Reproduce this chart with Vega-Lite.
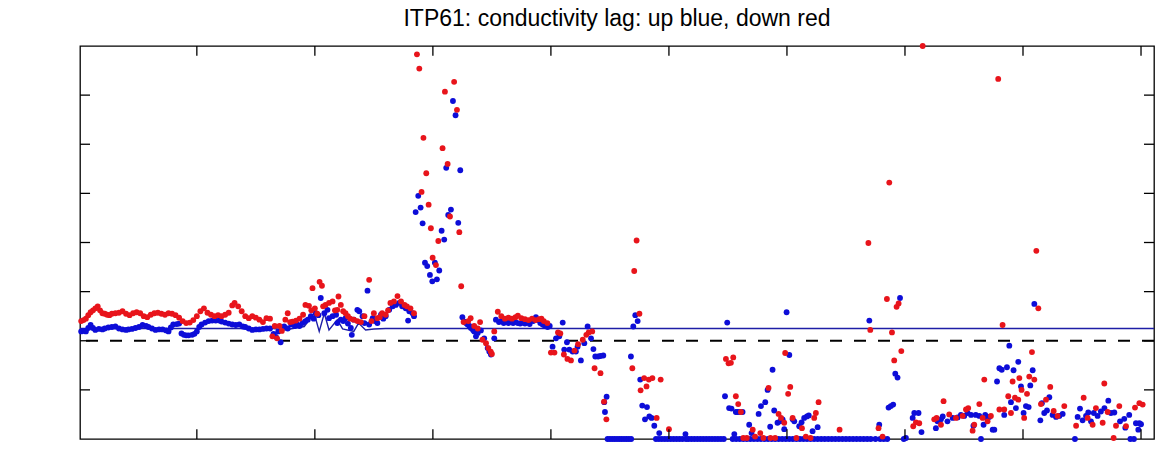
{
  "$schema": "https://vega.github.io/schema/vega-lite/v6.json",
  "width": 1074,
  "height": 393,
  "autosize": {"type": "none"},
  "padding": {"left": 80, "top": 46, "right": 15, "bottom": 37},
  "background": "white",
  "title": {"text": "ITP61: conductivity lag: up blue, down red", "fontSize": 23, "font": "Liberation Sans", "fontWeight": "normal", "offset": 12, "color": "black"},
  "config": {
    "view": {"stroke": "black", "strokeWidth": 1.3},
    "axis": {"grid": false, "domain": false, "ticks": true, "tickColor": "black", "tickWidth": 1.3, "tickSize": -10, "labelFont": "Liberation Sans", "labelFontSize": 21, "labelColor": "black", "titleFont": "Liberation Sans", "titleFontSize": 22, "titleFontWeight": "normal", "titleColor": "black"}
  },
  "datasets": {
    "xt": [{"t": 100}, {"t": 200}, {"t": 300}, {"t": 400}, {"t": 500}, {"t": 600}, {"t": 700}, {"t": 800}, {"t": 900}],
    "yt": [{"t": -1}, {"t": 0}, {"t": 1}, {"t": 2}, {"t": 3}, {"t": 4}, {"t": 5}],
    "line": [
      {"i": 1, "lag": 0.25}, {"i": 165, "lag": 0.25}, {"i": 174, "lag": 0.22}, {"i": 191, "lag": 0.29}, {"i": 199.4, "lag": 0.56}, {"i": 203.7, "lag": 0.19}, {"i": 208, "lag": 0.56}, {"i": 212, "lag": 0.22}, {"i": 219, "lag": 0.43}, {"i": 223.5, "lag": 0.24}, {"i": 233, "lag": 0.19}, {"i": 237, "lag": 0.36}, {"i": 243, "lag": 0.22}, {"i": 250, "lag": 0.24}, {"i": 260, "lag": 0.25}, {"i": 911, "lag": 0.25}
    ],
    "up": [
      {"i":2,"lag":0.19},{"i":4,"lag":0.20},{"i":6,"lag":0.19},{"i":8,"lag":0.26},{"i":10,"lag":0.32},{"i":12,"lag":0.26},{"i":14,"lag":0.22},{"i":17,"lag":0.24},{"i":20,"lag":0.23},{"i":22,"lag":0.25},{"i":25,"lag":0.27},{"i":28,"lag":0.28},{"i":31,"lag":0.29},{"i":34,"lag":0.25},{"i":37,"lag":0.23},{"i":40,"lag":0.22},{"i":42,"lag":0.23},{"i":45,"lag":0.24},{"i":48,"lag":0.26},{"i":51,"lag":0.28},{"i":54,"lag":0.32},{"i":57,"lag":0.30},{"i":59,"lag":0.28},{"i":62,"lag":0.25},{"i":65,"lag":0.22},{"i":68,"lag":0.23},{"i":71,"lag":0.23},{"i":74,"lag":0.21},{"i":76,"lag":0.19},{"i":78,"lag":0.27},{"i":80,"lag":0.33},{"i":83,"lag":0.34},{"i":85,"lag":0.35},{"i":87,"lag":0.15},{"i":89,"lag":0.12},{"i":91,"lag":0.11},{"i":93,"lag":0.11},{"i":96,"lag":0.12},{"i":98,"lag":0.14},{"i":100,"lag":0.19},{"i":102,"lag":0.28},{"i":104,"lag":0.33},{"i":107,"lag":0.37},{"i":110,"lag":0.40},{"i":113,"lag":0.41},{"i":116,"lag":0.41},{"i":119,"lag":0.41},{"i":121,"lag":0.39},{"i":124,"lag":0.37},{"i":127,"lag":0.35},{"i":130,"lag":0.33},{"i":133,"lag":0.32},{"i":136,"lag":0.33},{"i":139,"lag":0.29},{"i":141,"lag":0.28},{"i":144,"lag":0.25},{"i":147,"lag":0.22},{"i":150,"lag":0.23},{"i":153,"lag":0.23},{"i":156,"lag":0.24},{"i":159,"lag":0.25},{"i":162,"lag":0.25},{"i":165,"lag":0.14},{"i":167,"lag":0.08},{"i":169,"lag":0.19},{"i":171,"lag":-0.03},
      {"i":174,"lag":0.29},{"i":177,"lag":0.25},{"i":180,"lag":0.33},{"i":183,"lag":0.30},{"i":185,"lag":0.33},{"i":187,"lag":0.30},{"i":189.5,"lag":0.36},{"i":192,"lag":0.40},{"i":194,"lag":0.43},{"i":196.6,"lag":0.50},{"i":199,"lag":0.45},{"i":200.8,"lag":0.56},{"i":203,"lag":0.52},{"i":205,"lag":0.87},{"i":208,"lag":0.56},{"i":210.7,"lag":0.63},{"i":212,"lag":0.46},{"i":215,"lag":0.50},{"i":218,"lag":0.53},{"i":219,"lag":0.36},{"i":222,"lag":0.43},{"i":224,"lag":0.40},{"i":226,"lag":0.46},{"i":228,"lag":0.35},{"i":230.5,"lag":0.26},{"i":231.3,"lag":0.12},{"i":233,"lag":0.43},{"i":236,"lag":0.63},{"i":237.6,"lag":0.60},{"i":240.4,"lag":0.50},{"i":242,"lag":0.36},{"i":244.6,"lag":1.02},{"i":246,"lag":0.33},{"i":249,"lag":0.46},{"i":251,"lag":0.40},{"i":253,"lag":0.36},{"i":256,"lag":0.53},{"i":258,"lag":0.45},{"i":260,"lag":0.50},{"i":263,"lag":0.63},{"i":266,"lag":0.70},{"i":268.6,"lag":0.73},{"i":271.5,"lag":0.77},{"i":274,"lag":0.70},{"i":277,"lag":0.66},{"i":279,"lag":0.41},{"i":280,"lag":0.60},{"i":282.8,"lag":0.56},{"i":284,"lag":0.50},
      {"i":285.4,"lag":2.62},{"i":287.6,"lag":2.95},{"i":289.6,"lag":2.71},{"i":291.3,"lag":2.39},{"i":293.3,"lag":1.59},{"i":295.2,"lag":1.52},{"i":297.5,"lag":1.34},{"i":299.5,"lag":1.21},{"i":301.7,"lag":1.59},{"i":303.4,"lag":1.25},{"i":305.4,"lag":1.43},{"i":307.4,"lag":2.24},{"i":309.6,"lag":2.06},{"i":311.3,"lag":3.52},{"i":313,"lag":2.56},{"i":315.3,"lag":2.67},{"i":317,"lag":4.88},{"i":319.2,"lag":4.59},{"i":321.5,"lag":2.40},{"i":323.2,"lag":3.47},
      {"i":325,"lag":0.48},{"i":326.6,"lag":0.39},{"i":328,"lag":0.36},{"i":329.4,"lag":0.33},{"i":331,"lag":0.30},{"i":332.2,"lag":0.26},{"i":334,"lag":0.22},{"i":335,"lag":0.19},{"i":336.5,"lag":0.09},{"i":338,"lag":0.16},{"i":340.7,"lag":0.21},{"i":343.5,"lag":0.05},{"i":346.4,"lag":-0.15},{"i":347.8,"lag":-0.22},{"i":349.2,"lag":-0.28},{"i":352,"lag":0.05},{"i":353.4,"lag":0.43},{"i":356,"lag":0.38},{"i":358,"lag":0.40},{"i":360,"lag":0.36},{"i":362,"lag":0.38},{"i":364,"lag":0.36},{"i":366,"lag":0.40},{"i":368,"lag":0.36},{"i":370,"lag":0.38},{"i":372,"lag":0.36},{"i":374,"lag":0.35},{"i":376,"lag":0.37},{"i":378,"lag":0.35},{"i":380,"lag":0.38},{"i":382,"lag":0.34},{"i":385,"lag":0.40},{"i":387.3,"lag":0.48},{"i":389,"lag":0.42},{"i":391,"lag":0.36},{"i":393,"lag":0.33},{"i":395,"lag":0.30},{"i":397.2,"lag":0.28},{"i":399,"lag":0.30},{"i":401.4,"lag":-0.12},{"i":404.3,"lag":0.05},{"i":407.1,"lag":0.09},{"i":410,"lag":0.37},{"i":411.3,"lag":-0.18},{"i":413.6,"lag":-0.03},{"i":415.6,"lag":-0.18},{"i":418.4,"lag":-0.22},{"i":421.2,"lag":-0.22},{"i":422.6,"lag":-0.12},{"i":425.4,"lag":-0.40},{"i":428.3,"lag":-0.05},{"i":431.1,"lag":0.29},{"i":434,"lag":0.05},{"i":436,"lag":-0.17},{"i":437.6,"lag":-0.32},{"i":440,"lag":-0.32},{"i":442,"lag":-0.31},{"i":444.4,"lag":-0.30},{"i":445.2,"lag":-1.25},{"i":445.8,"lag":-1.45},{"i":447.2,"lag":-1.14},
      {"i":448,"lag":-2},{"i":450,"lag":-2},{"i":452,"lag":-2},{"i":454,"lag":-2},{"i":456,"lag":-2},{"i":458,"lag":-2},{"i":460,"lag":-2},{"i":462,"lag":-2},{"i":464,"lag":-2},{"i":466,"lag":-2},{"i":468,"lag":-2},
      {"i":467.8,"lag":-0.32},{"i":469.8,"lag":0.29},{"i":471.5,"lag":0.52},{"i":473.5,"lag":0.40},{"i":475.7,"lag":-0.79},{"i":477.4,"lag":-1.32},{"i":479.7,"lag":-1.60},{"i":481.4,"lag":-1.35},{"i":483.4,"lag":-1.54},{"i":485.3,"lag":-1.57},{"i":487.6,"lag":-1.73},{"i":491.8,"lag":-1.88},
      {"i":489,"lag":-2},{"i":491.5,"lag":-2},{"i":494,"lag":-2},{"i":496.5,"lag":-2},{"i":499,"lag":-2},{"i":501.5,"lag":-2},{"i":504,"lag":-2},{"i":506.5,"lag":-2},{"i":509,"lag":-2},{"i":511.5,"lag":-2},{"i":514,"lag":-1.9},{"i":514.5,"lag":-2},{"i":516.5,"lag":-2},{"i":519,"lag":-2},{"i":521.5,"lag":-2},{"i":524,"lag":-2},{"i":526.5,"lag":-2},{"i":529,"lag":-2},{"i":531.5,"lag":-2},{"i":534,"lag":-2},{"i":536.5,"lag":-2},{"i":539,"lag":-2},{"i":541.5,"lag":-2},{"i":544,"lag":-2},{"i":546.5,"lag":-2},
      {"i":547.5,"lag":-1.13},{"i":549.4,"lag":0.37},{"i":551,"lag":-1.37},{"i":553,"lag":-1.38},{"i":555.4,"lag":-1.90},{"i":556.7,"lag":-1.45},{"i":558,"lag":-1.45},{"i":560,"lag":-1.45},{"i":562.4,"lag":-1.45},{"i":568,"lag":-1.71},{"i":570,"lag":-1.88},{"i":576,"lag":-1.49},{"i":578,"lag":-1.33},{"i":581.6,"lag":-1.25},{"i":583.6,"lag":-1.00},{"i":585.8,"lag":-1.75},{"i":587.8,"lag":-0.59},{"i":589.2,"lag":-1.42},{"i":592,"lag":-1.67},{"i":594.3,"lag":-1.64},{"i":596.3,"lag":-1.60},{"i":597.7,"lag":-1.80},{"i":599.7,"lag":0.58},{"i":602,"lag":-0.29},{"i":604.8,"lag":-1.60},{"i":606.2,"lag":-1.64},{"i":610.4,"lag":-1.74},{"i":612.4,"lag":-1.66},{"i":614.6,"lag":-1.57},{"i":616.9,"lag":-1.54},{"i":618.5,"lag":-1.52},{"i":621.7,"lag":-1.84},{"i":626,"lag":-1.76},{"i":669.8,"lag":0.41},{"i":678.2,"lag":-1.71},{"i":686.1,"lag":-1.36},{"i":688,"lag":-1.33},{"i":690,"lag":-1.30},{"i":691.8,"lag":-0.67},{"i":693.7,"lag":-0.75},{"i":695.8,"lag":0.87},{"i":700.8,"lag":-1.98},{"i":706.5,"lag":-1.57},{"i":707.9,"lag":-1.47},{"i":711.5,"lag":-1.47},{"i":714,"lag":-1.86},
      {"i":554,"lag":-2},{"i":557,"lag":-2},{"i":560,"lag":-2},{"i":563,"lag":-2},{"i":566,"lag":-2},{"i":569,"lag":-2},{"i":572,"lag":-2},{"i":575,"lag":-2},{"i":578,"lag":-2},{"i":581,"lag":-2},{"i":584,"lag":-2},{"i":587,"lag":-2},{"i":590,"lag":-2},{"i":593,"lag":-2},{"i":596,"lag":-2},{"i":599,"lag":-2},{"i":602,"lag":-2},{"i":605,"lag":-2},{"i":608,"lag":-2},{"i":611,"lag":-2},{"i":614,"lag":-2},{"i":617,"lag":-2},{"i":620,"lag":-2},{"i":623,"lag":-2},{"i":626,"lag":-2},{"i":629,"lag":-2},{"i":632,"lag":-2},{"i":635,"lag":-2},{"i":638,"lag":-2},{"i":641,"lag":-2},{"i":644,"lag":-2},{"i":647,"lag":-2},{"i":650,"lag":-2},{"i":653,"lag":-2},{"i":656,"lag":-2},{"i":659,"lag":-2},{"i":662,"lag":-2},{"i":665,"lag":-2},{"i":668,"lag":-2},{"i":671,"lag":-2},{"i":675,"lag":-2},{"i":679,"lag":-2},{"i":682,"lag":-2},{"i":685,"lag":-2},{"i":699,"lag":-2},
      {"i":726.2,"lag":-1.78},{"i":727.6,"lag":-1.64},{"i":730.5,"lag":-1.60},{"i":732,"lag":-1.54},{"i":736,"lag":-1.64},{"i":740.4,"lag":-1.57},{"i":744.6,"lag":-1.56},{"i":747.4,"lag":-1.51},{"i":750.2,"lag":-1.53},{"i":753,"lag":-1.47},{"i":756,"lag":-1.51},{"i":758,"lag":-1.73},{"i":760,"lag":-1.51},{"i":763,"lag":-1.53},{"i":764.4,"lag":-2.0},{"i":766.6,"lag":-1.71},{"i":768,"lag":-1.51},{"i":769.5,"lag":-1.57},{"i":771.4,"lag":-1.55},{"i":774.3,"lag":-1.81},{"i":775.7,"lag":-1.81},{"i":778,"lag":-0.83},{"i":780,"lag":-0.56},{"i":782,"lag":-0.59},{"i":784.1,"lag":-1.51},{"i":786.4,"lag":-0.54},{"i":788.4,"lag":-0.10},{"i":789.8,"lag":-1.25},{"i":792,"lag":-0.60},{"i":794,"lag":-1.37},{"i":796,"lag":-0.43},{"i":798.3,"lag":-0.93},{"i":800.5,"lag":-1.47},{"i":802.5,"lag":-1.33},{"i":804.8,"lag":-1.35},{"i":806.2,"lag":-0.91},{"i":808.2,"lag":-0.60},{"i":809.6,"lag":0.75},{"i":814.7,"lag":-1.62},{"i":816,"lag":-1.27},{"i":818,"lag":-1.47},{"i":820.3,"lag":-1.42},{"i":822.3,"lag":-1.15},{"i":825.1,"lag":-1.51},{"i":828,"lag":-1.55},{"i":830.8,"lag":-1.53},{"i":833.6,"lag":-1.49},{"i":844,"lag":-2.0},{"i":846.3,"lag":-1.55},{"i":848.3,"lag":-1.38},{"i":850.5,"lag":-1.62},{"i":853.4,"lag":-1.53},{"i":855.3,"lag":-1.46},{"i":857.6,"lag":-1.64},{"i":860,"lag":-1.47},{"i":863.2,"lag":-1.53},{"i":866,"lag":-1.44},{"i":869,"lag":-1.37},{"i":872.3,"lag":-1.22},{"i":874.5,"lag":-1.47},{"i":877.4,"lag":-1.46},{"i":882.2,"lag":-1.64},{"i":885.8,"lag":-1.59},{"i":886.7,"lag":-1.77},{"i":890,"lag":-1.51},{"i":891,"lag":-2.0},{"i":894,"lag":-2.0},{"i":895.7,"lag":-1.68},{"i":897.7,"lag":-1.81},{"i":898.6,"lag":-1.68},{"i":900,"lag":-1.70}
    ],
    "down": [
      {"i":2,"lag":0.40},{"i":4,"lag":0.42},{"i":6,"lag":0.45},{"i":8,"lag":0.52},{"i":10,"lag":0.58},{"i":12,"lag":0.62},{"i":14,"lag":0.66},{"i":16,"lag":0.70},{"i":18,"lag":0.62},{"i":20,"lag":0.56},{"i":22,"lag":0.55},{"i":24,"lag":0.53},{"i":26,"lag":0.52},{"i":28,"lag":0.55},{"i":31,"lag":0.56},{"i":34,"lag":0.57},{"i":37,"lag":0.60},{"i":40,"lag":0.55},{"i":43,"lag":0.52},{"i":46,"lag":0.56},{"i":49,"lag":0.58},{"i":52,"lag":0.56},{"i":55,"lag":0.50},{"i":58,"lag":0.48},{"i":61,"lag":0.53},{"i":64,"lag":0.56},{"i":67,"lag":0.57},{"i":70,"lag":0.55},{"i":73,"lag":0.53},{"i":76,"lag":0.56},{"i":79,"lag":0.55},{"i":82,"lag":0.52},{"i":85,"lag":0.47},{"i":88,"lag":0.40},{"i":91,"lag":0.36},{"i":94,"lag":0.37},{"i":97,"lag":0.42},{"i":100,"lag":0.50},{"i":103,"lag":0.60},{"i":106,"lag":0.66},{"i":109,"lag":0.57},{"i":112,"lag":0.53},{"i":115,"lag":0.50},{"i":118,"lag":0.52},{"i":121,"lag":0.50},{"i":124,"lag":0.53},{"i":127,"lag":0.57},{"i":130,"lag":0.72},{"i":132,"lag":0.77},{"i":135,"lag":0.70},{"i":138,"lag":0.60},{"i":141,"lag":0.50},{"i":144,"lag":0.46},{"i":147,"lag":0.50},{"i":150,"lag":0.47},{"i":153,"lag":0.43},{"i":156,"lag":0.38},{"i":159,"lag":0.46},{"i":162,"lag":0.45},{"i":164,"lag":0.09},{"i":166,"lag":0.30},{"i":168,"lag":0.05},
      {"i":170,"lag":0.30},{"i":172,"lag":0.20},{"i":175,"lag":0.43},{"i":177,"lag":0.56},{"i":179,"lag":0.38},{"i":181,"lag":0.39},{"i":184,"lag":0.41},{"i":187,"lag":0.45},{"i":190,"lag":0.53},{"i":192,"lag":0.73},{"i":195,"lag":0.71},{"i":197,"lag":0.62},{"i":198,"lag":1.07},{"i":200,"lag":0.66},{"i":202,"lag":0.55},{"i":204,"lag":1.20},{"i":206,"lag":1.12},{"i":207,"lag":0.70},{"i":209,"lag":0.73},{"i":212,"lag":0.77},{"i":215,"lag":0.80},{"i":217,"lag":0.62},{"i":219,"lag":0.63},{"i":220,"lag":0.90},{"i":222,"lag":0.73},{"i":224,"lag":0.60},{"i":226,"lag":0.56},{"i":228,"lag":0.50},{"i":230,"lag":0.45},{"i":233,"lag":0.43},{"i":236,"lag":0.40},{"i":239,"lag":0.38},{"i":242,"lag":0.50},{"i":246,"lag":1.24},{"i":248,"lag":0.40},{"i":250,"lag":0.56},{"i":253,"lag":0.46},{"i":255,"lag":0.48},{"i":257,"lag":0.56},{"i":260,"lag":0.53},{"i":262,"lag":0.62},{"i":264,"lag":0.77},{"i":267,"lag":0.80},{"i":270,"lag":0.91},{"i":273,"lag":0.80},{"i":276,"lag":0.73},{"i":278,"lag":0.70},{"i":281,"lag":0.66},{"i":284,"lag":0.56},
      {"i":286.5,"lag":5.83},{"i":288.5,"lag":5.54},{"i":290.4,"lag":3.03},{"i":292,"lag":4.13},{"i":294.4,"lag":3.41},{"i":296.4,"lag":2.77},{"i":298.3,"lag":2.29},{"i":299.8,"lag":1.69},{"i":302.6,"lag":1.54},{"i":304.6,"lag":2.03},{"i":308.2,"lag":3.92},{"i":310.2,"lag":5.07},{"i":312.5,"lag":3.60},{"i":314.5,"lag":2.53},{"i":318,"lag":5.27},{"i":320.4,"lag":4.70},{"i":322.4,"lag":2.21},{"i":324,"lag":1.11},
      {"i":326,"lag":0.38},{"i":330,"lag":0.40},{"i":332,"lag":0.46},{"i":335,"lag":0.30},{"i":338,"lag":0.25},{"i":340,"lag":0.38},{"i":342,"lag":0.02},{"i":345,"lag":-0.05},{"i":347,"lag":-0.15},{"i":349,"lag":-0.22},{"i":350,"lag":-0.27},{"i":352,"lag":0.19},{"i":355,"lag":0.59},{"i":358,"lag":0.50},{"i":361,"lag":0.45},{"i":364,"lag":0.47},{"i":367,"lag":0.45},{"i":370,"lag":0.48},{"i":372,"lag":0.51},{"i":375,"lag":0.46},{"i":378,"lag":0.44},{"i":381,"lag":0.42},{"i":384,"lag":0.45},{"i":387,"lag":0.42},{"i":390,"lag":0.44},{"i":392,"lag":0.45},{"i":394,"lag":0.40},{"i":397,"lag":0.36},{"i":400,"lag":-0.24},{"i":403,"lag":-0.24},{"i":406,"lag":0.17},{"i":408,"lag":0.15},{"i":411,"lag":-0.28},{"i":414,"lag":-0.37},{"i":417,"lag":-0.40},{"i":420,"lag":-0.20},{"i":423,"lag":-0.07},{"i":427,"lag":0.02},{"i":430,"lag":0.12},{"i":432,"lag":0.17},{"i":435,"lag":0.19},{"i":437,"lag":-0.56},{"i":442,"lag":-0.66},{"i":445,"lag":-1.24},{"i":447,"lag":-1.60},{"i":469,"lag":-0.56},{"i":470.6,"lag":1.42},{"i":472.6,"lag":2.04},{"i":475,"lag":0.55},{"i":476,"lag":-1.01},{"i":479,"lag":-0.76},{"i":481,"lag":-0.93},{"i":483,"lag":-0.79},{"i":486,"lag":-0.76},{"i":489.6,"lag":-1.57},{"i":493,"lag":-0.79},{"i":500,"lag":-1.80},
      {"i":548.3,"lag":-0.37},{"i":550.5,"lag":-0.46},{"i":552.5,"lag":-0.45},{"i":554.5,"lag":-0.34},{"i":556.7,"lag":-1.13},{"i":558.7,"lag":-1.29},{"i":561,"lag":-1.45},{"i":563,"lag":-1.98},{"i":566,"lag":-1.98},{"i":571,"lag":-1.81},{"i":573,"lag":-1.95},{"i":577.4,"lag":-1.88},{"i":580,"lag":-1.98},{"i":584.4,"lag":-0.96},{"i":586,"lag":-1.98},{"i":590,"lag":-1.98},{"i":592.9,"lag":-1.49},{"i":595,"lag":-1.57},{"i":597.7,"lag":-1.67},{"i":598.5,"lag":-0.25},{"i":601,"lag":-1.08},{"i":602.8,"lag":-0.94},{"i":604.8,"lag":-1.57},{"i":608,"lag":-1.98},{"i":612.7,"lag":-1.78},{"i":616,"lag":-1.95},{"i":620,"lag":-1.98},{"i":623.1,"lag":-1.57},{"i":624.5,"lag":-1.47},{"i":626.8,"lag":-1.25},{"i":644.6,"lag":-1.81},{"i":669,"lag":1.99},{"i":670.6,"lag":0.22},{"i":677.6,"lag":-1.78},{"i":681,"lag":-1.95},{"i":684.7,"lag":0.85},{"i":686.7,"lag":3.22},{"i":689,"lag":0.17},{"i":690.9,"lag":-0.40},{"i":692.9,"lag":0.69},{"i":694.6,"lag":0.76},{"i":696.9,"lag":-0.21},{"i":707,"lag":-1.74},{"i":709.3,"lag":-1.66},{"i":712.1,"lag":-1.68},{"i":715,"lag":6.0},
      {"i":724.8,"lag":-1.60},{"i":726.8,"lag":-1.57},{"i":730.5,"lag":-1.71},{"i":732.7,"lag":-1.23},{"i":737.5,"lag":-1.50},{"i":743.2,"lag":-1.57},{"i":748.8,"lag":-1.53},{"i":751.7,"lag":-1.40},{"i":753.6,"lag":-1.37},{"i":757.3,"lag":-1.83},{"i":758.7,"lag":-1.71},{"i":763,"lag":-1.29},{"i":765.8,"lag":-1.57},{"i":767.2,"lag":-0.79},{"i":770,"lag":-1.64},{"i":772.8,"lag":-1.53},{"i":779,"lag":5.33},{"i":780,"lag":-1.40},{"i":782.7,"lag":0.32},{"i":784.1,"lag":-1.40},{"i":787.5,"lag":-1.13},{"i":789.8,"lag":-1.47},{"i":791.2,"lag":-0.83},{"i":793.2,"lag":-1.16},{"i":796,"lag":-1.20},{"i":796.9,"lag":-0.76},{"i":798.8,"lag":-1.00},{"i":801,"lag":-1.57},{"i":803.4,"lag":-1.08},{"i":805.3,"lag":-0.73},{"i":807.6,"lag":-0.23},{"i":809.6,"lag":-0.79},{"i":811.3,"lag":1.83},{"i":813,"lag":0.66},{"i":815.2,"lag":-1.29},{"i":819.5,"lag":-1.20},{"i":823.1,"lag":-0.94},{"i":826,"lag":-1.43},{"i":829.3,"lag":-1.53},{"i":835,"lag":-1.33},{"i":845,"lag":-1.73},{"i":851.4,"lag":-1.16},{"i":854.8,"lag":-1.57},{"i":859,"lag":-1.71},{"i":861.8,"lag":-1.37},{"i":867.5,"lag":-1.67},{"i":868.9,"lag":-0.87},{"i":871.7,"lag":-1.45},{"i":876.8,"lag":-1.98},{"i":878.8,"lag":-1.73},{"i":881.6,"lag":-1.33},{"i":887.3,"lag":-1.74},{"i":894.9,"lag":-1.36},{"i":898.6,"lag":-1.27},{"i":901.4,"lag":-1.30}
    ]
  },
  "layer": [
    {
      "data": {"name": "line"},
      "mark": {"type": "line", "color": "#1e1ea6", "strokeWidth": 1.4},
      "encoding": {
        "x": {"field": "i", "type": "quantitative", "scale": {"domain": [1, 911], "nice": false, "zero": false}, "axis": null},
        "y": {"field": "lag", "type": "quantitative", "scale": {"domain": [-2, 6], "nice": false, "zero": false}, "axis": null}
      }
    },
    {
      "data": {"values": [{"z": 0}]},
      "mark": {"type": "rule", "color": "black", "strokeDash": [12, 12], "strokeWidth": 1.8},
      "encoding": {"y": {"field": "z", "type": "quantitative", "axis": null}}
    },
    {
      "data": {"name": "up"},
      "mark": {"type": "circle", "color": "#0d0dd8", "opacity": 1, "size": 34},
      "encoding": {
        "x": {"field": "i", "type": "quantitative", "axis": {"title": null, "values": [100, 200, 300, 400, 500, 600, 700, 800, 900], "labelPadding": 22}},
        "y": {"field": "lag", "type": "quantitative", "axis": {"title": "lag (s)", "values": [-1, 0, 1, 2, 3, 4, 5], "labelPadding": 20, "titlePadding": 12}}
      }
    },
    {
      "data": {"name": "down"},
      "mark": {"type": "circle", "color": "#e8141b", "opacity": 1, "size": 34},
      "encoding": {
        "x": {"field": "i", "type": "quantitative", "axis": null},
        "y": {"field": "lag", "type": "quantitative", "axis": null}
      }
    },
    {
      "data": {"name": "xt"},
      "mark": {"type": "rule", "color": "black", "strokeWidth": 1.3},
      "encoding": {"x": {"field": "t", "type": "quantitative", "axis": null}, "y": {"datum": -2, "axis": null}, "y2": {"datum": -1.8}}
    },
    {
      "data": {"name": "xt"},
      "mark": {"type": "rule", "color": "black", "strokeWidth": 1.3},
      "encoding": {"x": {"field": "t", "type": "quantitative", "axis": null}, "y": {"datum": 6, "axis": null}, "y2": {"datum": 5.8}}
    },
    {
      "data": {"name": "yt"},
      "mark": {"type": "rule", "color": "black", "strokeWidth": 1.3},
      "encoding": {"y": {"field": "t", "type": "quantitative", "axis": null}, "x": {"datum": 1, "axis": null}, "x2": {"datum": 9.5}}
    },
    {
      "data": {"name": "yt"},
      "mark": {"type": "rule", "color": "black", "strokeWidth": 1.3},
      "encoding": {"y": {"field": "t", "type": "quantitative", "axis": null}, "x": {"datum": 911, "axis": null}, "x2": {"datum": 902.5}}
    }
  ]
}
